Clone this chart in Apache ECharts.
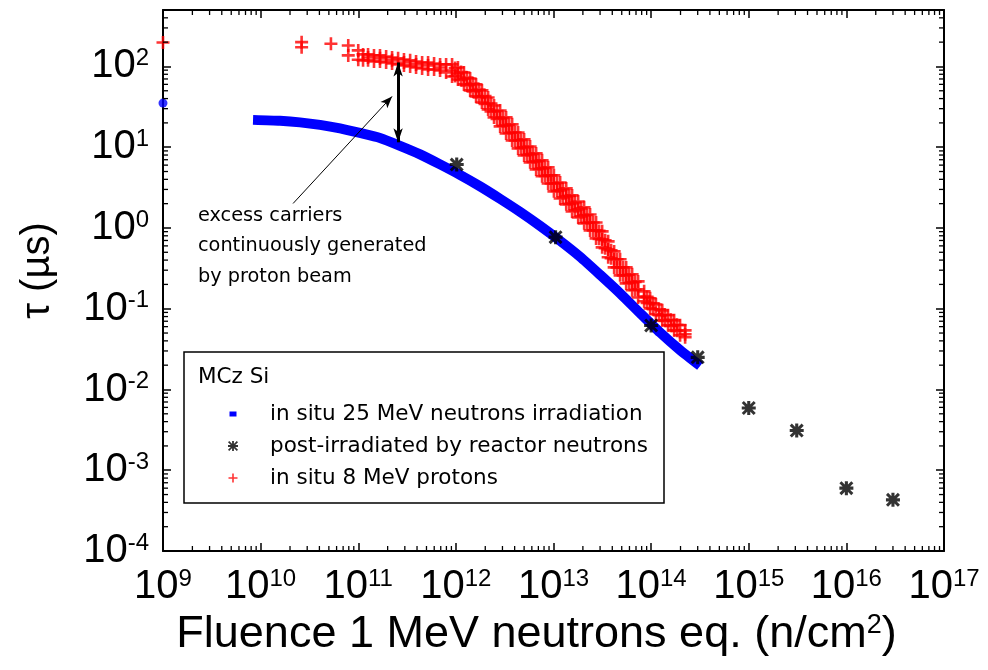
<!DOCTYPE html>
<html>
<head>
<meta charset="utf-8">
<script src="https://cdn.jsdelivr.net/npm/echarts@6/dist/echarts.min.js"></script>
<style>
html,body{margin:0;padding:0;background:#fff;}
#chart{width:988px;height:670px;}
</style>
</head>
<body>
<div id="chart"></div>
<script>
// ---- data ----
const xExponents = [9, 10, 11, 12, 13, 14, 15, 16, 17];
const yExponents = [-4, -3, -2, -1, 0, 1, 2];
const minorMultipliers = [2, 3, 4, 5, 6, 7, 8, 9];

const neutronsInSitu = [
  [8.36e9, 21.8], [1.58e10, 21.2], [2.53e10, 20.3], [4.06e10, 18.9], [6.51e10, 17.1],
  [1.04e11, 15.0], [1.67e11, 13.0], [2.68e11, 10.4], [4.30e11, 8.15], [6.89e11, 6.12],
  [1.10e12, 4.54], [1.77e12, 3.27], [2.84e12, 2.29], [4.55e12, 1.58], [7.29e12, 1.06],
  [1.17e13, 0.692], [1.87e13, 0.440], [3.00e13, 0.263], [4.81e13, 0.155], [7.71e13, 0.0882],
  [1.24e14, 0.0505], [1.98e14, 0.0307], [3.18e14, 0.0196]
];
const neutronsInSituStart = [[1e9, 35.2]];

const reactorNeutrons = [
  [1.02e12, 6.1], [1.05e13, 0.77], [1.0e14, 0.062], [3.0e14, 0.025],
  [1.0e15, 0.0059], [3.1e15, 0.0031], [1.0e16, 0.00060], [3.0e16, 0.00043]
];

const protonsInSitu = [
  [1e9, 198], [2.63e10, 200], [2.63e10, 173], [5.25e10, 191], [7.9e10, 182], [7.9e10, 137],
  [1.0e11, 158], [1.0e11, 121],
  [1.12e11, 141], [1.12e11, 119], [1.26e11, 141], [1.26e11, 119], [1.26e11, 129],
  [1.45e11, 137], [1.45e11, 115], [1.67e11, 137], [1.67e11, 115], [1.67e11, 126],
  [1.93e11, 133], [1.93e11, 112], [2.22e11, 129], [2.22e11, 109], [2.22e11, 119],
  [2.56e11, 126], [2.56e11, 106], [2.94e11, 122], [2.94e11, 103], [2.94e11, 112],
  [3.40e11, 119], [3.40e11, 100], [3.91e11, 115], [3.91e11, 97.2], [3.91e11, 106],
  [4.51e11, 112], [4.51e11, 94.4], [5.19e11, 112], [5.19e11, 91.8], [5.19e11, 103],
  [5.98e11, 109], [5.98e11, 91.8], [6.89e11, 106], [6.89e11, 89.2], [6.89e11, 97.2],
  [7.94e11, 106], [7.94e11, 84.3],
  [9.14e11, 106], [9.14e11, 75.2], [9.14e11, 89.2], [1.05e12, 97.2], [1.05e12, 69.0], [1.05e12, 81.9],
  [1.21e12, 84.3], [1.21e12, 59.9], [1.21e12, 71.0], [1.40e12, 71.0], [1.40e12, 50.5], [1.40e12, 59.9],
  [1.61e12, 59.9], [1.61e12, 42.6], [1.61e12, 50.5], [1.85e12, 50.5], [1.85e12, 35.8], [1.85e12, 42.6],
  [2.14e12, 41.3], [2.14e12, 29.4], [2.14e12, 34.8], [2.46e12, 32.9], [2.46e12, 23.4], [2.46e12, 27.7],
  [2.84e12, 28.5], [2.84e12, 18.1], [2.84e12, 22.7], [3.27e12, 23.4], [3.27e12, 14.8], [3.27e12, 18.6],
  [3.77e12, 19.2], [3.77e12, 12.1], [3.77e12, 15.2], [4.34e12, 15.2], [4.34e12, 9.66], [4.34e12, 12.1],
  [5.00e12, 12.5], [5.00e12, 7.92], [5.00e12, 9.95], [5.76e12, 10.2], [5.76e12, 6.49], [5.76e12, 8.15],
  [6.64e12, 8.38], [6.64e12, 5.31], [6.64e12, 6.68], [7.64e12, 6.87], [7.64e12, 4.36], [7.64e12, 5.47],
  [8.81e12, 5.63], [8.81e12, 3.56], [8.81e12, 4.48], [1.01e13, 4.48], [1.01e13, 2.84], [1.01e13, 3.56],
  [1.17e13, 3.66], [1.17e13, 2.32], [1.17e13, 2.92], [1.35e13, 3.09], [1.35e13, 1.96], [1.35e13, 2.46],
  [1.55e13, 2.53], [1.55e13, 1.60], [1.55e13, 2.01], [1.79e13, 2.13], [1.79e13, 1.35], [1.79e13, 1.70],
  [2.06e13, 1.80], [2.06e13, 1.14], [2.06e13, 1.43], [2.37e13, 1.47], [2.37e13, 0.933], [2.37e13, 1.17],
  [2.73e13, 1.17], [2.73e13, 0.743], [2.73e13, 0.933], [3.15e13, 0.908], [3.15e13, 0.575], [3.15e13, 0.723],
  [3.63e13, 0.683], [3.63e13, 0.433], [3.63e13, 0.543], [4.18e13, 0.513], [4.18e13, 0.325], [4.18e13, 0.409],
  [4.81e13, 0.409], [4.81e13, 0.259], [4.81e13, 0.325], [5.55e13, 0.325], [5.55e13, 0.206], [5.55e13, 0.259],
  [6.39e13, 0.267], [6.39e13, 0.169], [6.39e13, 0.212], [7.36e13, 0.218], [7.36e13, 0.138], [7.36e13, 0.174],
  [8.48e13, 0.164], [8.48e13, 0.124], [8.48e13, 0.142], [9.77e13, 0.135], [9.77e13, 0.101], [9.77e13, 0.117],
  [1.12e14, 0.113], [1.12e14, 0.0853], [1.30e14, 0.0955], [1.30e14, 0.0718], [1.30e14, 0.0829],
  [1.49e14, 0.0829], [1.49e14, 0.0624], [1.72e14, 0.0718], [1.72e14, 0.0540], [1.72e14, 0.0624],
  [1.98e14, 0.0624], [1.98e14, 0.0469], [2.23e14, 0.0540], [2.23e14, 0.0443], [2.23e14, 0.0482],
  // in-between readings of the dense part of the band
  [9.82e11, 95.8], [9.82e11, 76.3], [1.13e12, 85.5], [1.13e12, 68.0], [1.30e12, 73.0], [1.30e12, 58.2],
  [1.50e12, 61.6], [1.50e12, 49.0], [1.73e12, 51.9], [1.73e12, 41.3], [1.99e12, 43.1], [1.99e12, 34.3],
  [2.29e12, 34.8], [2.29e12, 27.7], [2.64e12, 28.1], [2.64e12, 22.4], [3.05e12, 23.0], [3.05e12, 18.4],
  [3.51e12, 18.9], [3.51e12, 15.0], [4.04e12, 15.2], [4.04e12, 12.1], [4.66e12, 12.3], [4.66e12, 9.80],
  [5.37e12, 10.1], [5.37e12, 8.03], [6.18e12, 8.26], [6.18e12, 6.58], [7.12e12, 6.77], [7.12e12, 5.39],
  [8.20e12, 5.54], [8.20e12, 4.42], [9.45e12, 4.48], [9.45e12, 3.56], [1.09e13, 3.61], [1.09e13, 2.88],
  [1.25e13, 3.01], [1.25e13, 2.39], [1.45e13, 2.50], [1.45e13, 1.99], [1.66e13, 2.07], [1.66e13, 1.65],
  [1.92e13, 1.75], [1.92e13, 1.39], [2.21e13, 1.45], [2.21e13, 1.16], [2.55e13, 1.17], [2.55e13, 0.933],
  [2.93e13, 0.920], [2.93e13, 0.733], [3.38e13, 0.703], [3.38e13, 0.560], [3.89e13, 0.528], [3.89e13, 0.421],
  [4.48e13, 0.409], [4.48e13, 0.325], [5.17e13, 0.325], [5.17e13, 0.259], [5.95e13, 0.263], [5.95e13, 0.209],
  [6.86e13, 0.215], [6.86e13, 0.171], [9.10e13, 0.140], [9.10e13, 0.118], [1.05e14, 0.117], [1.05e14, 0.0984],
  [1.21e14, 0.0984], [1.21e14, 0.0829], [1.39e14, 0.0841], [1.39e14, 0.0708], [1.60e14, 0.0729], [1.60e14, 0.0614],
  [1.85e14, 0.0632], [1.85e14, 0.0532]
];

// annotation arrows (data coordinates)
const excessArrow = [[2.56e11, 112], [2.56e11, 11.5]];
const pointerArrow = [[2.15e10, 2.01], [2.22e11, 42.6]];
const noteLines = ['excess carriers', 'continuously generated', 'by proton beam'];

const seriesNames = ['in situ 25 MeV neutrons irradiation', 'post-irradiated by reactor neutrons', 'in situ 8 MeV protons'];

const X_MIN = 1e9, X_MAX = 1e17, Y_MIN = 1e-4, Y_MAX = 500;

// minor tick positions (2..9 x 10^n) for the log axes
const xMinor = [];
xExponents.slice(0, -1).forEach(function (e) {
  minorMultipliers.forEach(function (m) { xMinor.push([m * Math.pow(10, e), 1]); });
});
const yMinor = [];
yExponents.forEach(function (e) {
  minorMultipliers.forEach(function (m) {
    const v = m * Math.pow(10, e);
    if (v < Y_MAX) yMinor.push([1e10, v]);
  });
});

// ---- chart ----
const FONT = 'Liberation Sans, Arial, sans-serif';
const TFONT = 'DejaVu Sans, sans-serif';
const chart = echarts.init(document.getElementById('chart'), null, {renderer: 'canvas'});

function powLabel(v) {
  const l = Math.log10(v);
  const e = Math.round(l);
  if (Math.abs(l - e) > 1e-6) return '';
  return '{b|10}{s|' + e + '}';
}
const labelRich = {
  b: {fontSize: 40, fontFamily: FONT, color: '#000'},
  s: {fontSize: 24, fontFamily: FONT, color: '#000', verticalAlign: 'top'}
};

function logAxis(extra, min, max) {
  return Object.assign({
    type: 'log', logBase: 10, min: min, max: max,
    axisLine: {show: true, lineStyle: {color: '#000', width: 2}},
    axisTick: {show: true, inside: true, length: 8, lineStyle: {color: '#000', width: 1.5}},
    minorTick: {show: false},
    splitLine: {show: false},
    minorSplitLine: {show: false}
  }, extra);
}

const TICK = {stroke: '#000', lineWidth: 1.3};
function xMinorTick(params, api) {
  const v = api.value(0);
  const pb = api.coord([v, Y_MIN]);
  const pt = api.coord([v, Y_MAX]);
  return {type: 'group', children: [
    {type: 'line', shape: {x1: pb[0], y1: pb[1], x2: pb[0], y2: pb[1] - 5}, style: TICK},
    {type: 'line', shape: {x1: pt[0], y1: pt[1], x2: pt[0], y2: pt[1] + 5}, style: TICK}
  ]};
}
function yMinorTick(params, api) {
  const v = api.value(1);
  const pl = api.coord([X_MIN, v]);
  const pr = api.coord([X_MAX, v]);
  return {type: 'group', children: [
    {type: 'line', shape: {x1: pl[0], y1: pl[1], x2: pl[0] + 5, y2: pl[1]}, style: TICK},
    {type: 'line', shape: {x1: pr[0], y1: pr[1], x2: pr[0] - 5, y2: pr[1]}, style: TICK}
  ]};
}

const STAR = 'path://M0,3.9H10V6.1H0Z M3.9,0H6.1V10H3.9Z M1.5,0L10,8.5L8.5,10L0,1.5Z M8.5,0L10,1.5L1.5,10L0,8.5Z';
const PLUS = 'path://M0,4H10V6H0Z M4,0H6V10H4Z';
const SQUARE = 'path://M0,0M14,14M3.5,4.5H10.5V9.5H3.5Z';
const STAR_ICON = 'path://M0,0M14,14M2,6.1H12V7.9H2Z M6.1,2H7.9V12H6.1Z M3.2,2L12,10.8L10.8,12L2,3.2Z M10.8,2L12,3.2L3.2,12L2,10.8Z';
const PLUS_ICON = 'path://M0,0M14,14M2.5,6.2H11.5V7.8H2.5Z M6.2,2.5H7.8V11.5H6.2Z';

const option = {
  animation: false,
  backgroundColor: '#fff',
  grid: {left: 163, right: 44, top: 10, bottom: 119, containLabel: false},
  xAxis: [
    logAxis({
      position: 'bottom',
      axisLabel: {show: true, interval: 0, margin: 16, formatter: powLabel, rich: labelRich},
      name: '{b|Fluence 1 MeV neutrons eq. (n/cm}{s|2}{b|)}',
      nameLocation: 'middle', nameGap: 58,
      nameTextStyle: {
        padding: [0, 34, 0, 0],
        rich: {
          b: {fontSize: 45, fontFamily: FONT, color: '#000'},
          s: {fontSize: 27, fontFamily: FONT, color: '#000', verticalAlign: 'top'}
        }
      }
    }, X_MIN, X_MAX),
    logAxis({position: 'top', axisLabel: {show: false}}, X_MIN, X_MAX)
  ],
  yAxis: [
    logAxis({
      position: 'left',
      axisLabel: {show: true, interval: 0, margin: 14, formatter: powLabel, rich: labelRich},
      name: 'τ (µs)', nameLocation: 'middle', nameGap: 105, nameRotate: 90,
      nameTextStyle: {fontSize: 40, fontFamily: FONT, color: '#000', padding: [0, 0, 0, 20]}
    }, Y_MIN, Y_MAX),
    logAxis({position: 'right', axisLabel: {show: false}}, Y_MIN, Y_MAX)
  ],
  legend: {
    orient: 'vertical', left: 221, top: 398, itemWidth: 14, itemHeight: 14, itemGap: 10,
    z: 10,
    textStyle: {fontFamily: TFONT, fontSize: 21.5, color: '#000', padding: [0, 0, 0, 25]},
    data: [
      {name: seriesNames[0], icon: SQUARE},
      {name: seriesNames[1], icon: STAR_ICON},
      {name: seriesNames[2], icon: PLUS_ICON}
    ]
  },
  graphic: [
    {type: 'rect', z: 5, shape: {x: 184, y: 352, width: 480, height: 151},
     style: {fill: '#fff', stroke: '#000', lineWidth: 1.5}},
    {type: 'text', z: 11, x: 198, y: 377,
     style: {text: 'MCz Si', fontFamily: TFONT, fontSize: 21.5, fill: '#000', verticalAlign: 'middle'}},
    {type: 'text', z: 11, x: 198, y: 216,
     style: {text: noteLines[0], fontFamily: TFONT, fontSize: 19.3, fill: '#000', verticalAlign: 'middle'}},
    {type: 'text', z: 11, x: 198, y: 246,
     style: {text: noteLines[1], fontFamily: TFONT, fontSize: 19.3, fill: '#000', verticalAlign: 'middle'}},
    {type: 'text', z: 11, x: 198, y: 277,
     style: {text: noteLines[2], fontFamily: TFONT, fontSize: 19.3, fill: '#000', verticalAlign: 'middle'}}
  ],
  series: [
    {
      type: 'custom', silent: true, clip: false, data: xMinor, encode: {x: 0, y: 1},
      renderItem: xMinorTick, z: 6
    },
    {
      type: 'custom', silent: true, clip: false, data: yMinor, encode: {x: 0, y: 1},
      renderItem: yMinorTick, z: 6
    },
    {
      name: seriesNames[0], type: 'line', data: neutronsInSitu, smooth: 0.2,
      showSymbol: false, symbol: 'none', clip: true, z: 2,
      lineStyle: {color: '#0000ff', width: 10, cap: 'butt'},
      itemStyle: {color: '#0000ff'}
    },
    {
      name: seriesNames[0], type: 'scatter', data: neutronsInSituStart,
      symbol: 'circle', symbolSize: 9, z: 2, itemStyle: {color: '#0000ff'}
    },
    {
      name: seriesNames[2], type: 'scatter', data: protonsInSitu, large: false,
      symbol: PLUS, symbolSize: 13, z: 3, itemStyle: {color: '#ff0000'}
    },
    {
      name: seriesNames[1], type: 'scatter', data: reactorNeutrons,
      symbol: STAR, symbolSize: 14, z: 4, itemStyle: {color: '#000'},
      markLine: {
        silent: true, animation: false, label: {show: false},
        symbol: ['arrow', 'arrow'], symbolSize: [7, 14],
        data: [
          [{coord: excessArrow[0], symbol: 'arrow', lineStyle: {color: '#000', width: 3, type: 'solid'}},
           {coord: excessArrow[1], symbol: 'arrow'}],
          [{coord: pointerArrow[0], symbol: 'none', symbolSize: [7, 12], lineStyle: {color: '#000', width: 1, type: 'solid'}},
           {coord: pointerArrow[1], symbol: 'arrow', symbolSize: [7, 12]}]
        ]
      }
    }
  ]
};
chart.setOption(option);
</script>
</body>
</html>
